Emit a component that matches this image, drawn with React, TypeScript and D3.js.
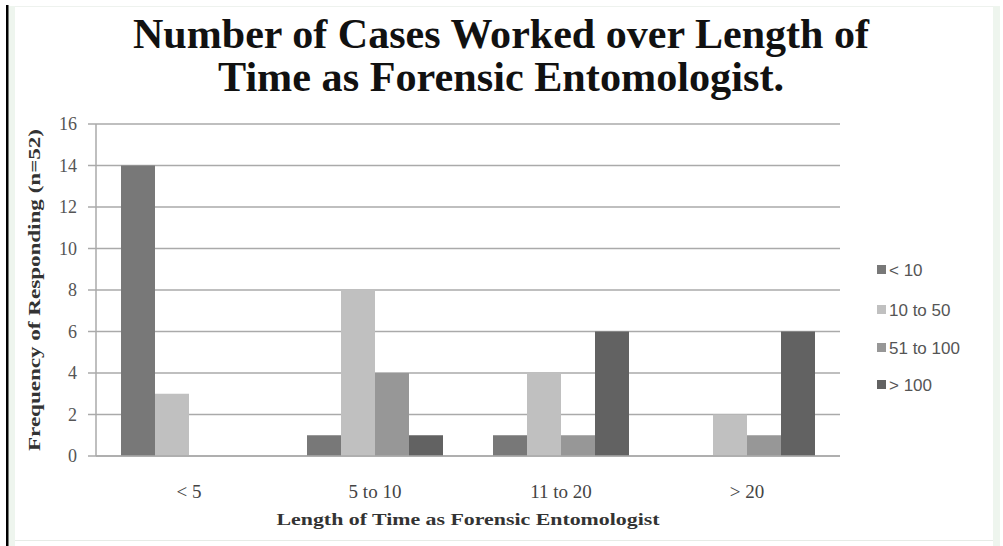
import React from "react";
import * as d3 from "d3";

const categories = ["< 5", "5 to 10", "11 to 20", "> 20"];
const seriesNames = ["< 10", "10 to 50", "51 to 100", "> 100"];
const lessThan10 = [14, 1, 1, 0];
const from10to50 = [3, 8, 4, 2];
const from51to100 = [0, 4, 1, 1];
const over100 = [0, 1, 6, 6];
const yTicks = [0, 2, 4, 6, 8, 10, 12, 14, 16];
const colors = ["#787878", "#c0c0c0", "#979797", "#626262"];

export default function App() {
  const W = 1003, H = 546;
  const left = 96, right = 840, top = 124, bottom = 456;
  const series = [lessThan10, from10to50, from51to100, over100];
  const x = d3.scaleBand<string>().domain(categories).range([left, right]).paddingInner(0).paddingOuter(0);
  const y = d3.scaleLinear().domain([0, 16]).range([bottom, top]);
  const bw = x.bandwidth();
  const barW = 34;
  const inner = d3.scaleBand<string>().domain(seriesNames).range([bw / 2 - 2 * barW, bw / 2 + 2 * barW]);
  const serif = "'Liberation Serif', 'Times New Roman', serif";
  const sans = "'Liberation Sans', Arial, sans-serif";
  const legendY = [270, 310, 348, 385];

  return (
    <svg width={W} height={H} style={{ position: "absolute", left: 0, top: 0, background: "#fff" }}>
      <rect x={0} y={0} width={W} height={H} fill="#fff" />
      <rect x={8} y={6} width={7} height={H - 6} fill="#eef5ee" />
      <rect x={993} y={6} width={7} height={H - 6} fill="#eef5ee" />
      <line x1={15} x2={993} y1={6.5} y2={6.5} stroke="#eef2ee" />
      <line x1={15} x2={993} y1={540.5} y2={540.5} stroke="#e6ebe6" />
      <rect x={6} y={5} width={2.5} height={H - 5} fill="#000" />

      <text x={501} y={48} textAnchor="middle" fontFamily={serif} fontWeight="bold" fontSize={42} textLength={736} lengthAdjust="spacingAndGlyphs" fill="#111">
        Number of Cases Worked over Length of
      </text>
      <text x={501} y={91} textAnchor="middle" fontFamily={serif} fontWeight="bold" fontSize={42} textLength={566} lengthAdjust="spacingAndGlyphs" fill="#111">
        Time as Forensic Entomologist.
      </text>

      {yTicks.map((t) => (
        <g key={t}>
          <line x1={88} x2={right} y1={y(t)} y2={y(t)} stroke="#aaa" strokeWidth={1.5} />
          <text x={77} y={y(t) + 6} textAnchor="end" fontFamily={serif} fontSize={18} fill="#555">{t}</text>
        </g>
      ))}
      <line x1={left} x2={left} y1={top} y2={bottom} stroke="#aaa" strokeWidth={1.5} />

      {categories.map((c, i) => (
        <g key={c}>
          {series.map((s, j) =>
            s[i] > 0 ? (
              <rect key={j} x={(x(c) as number) + (inner(seriesNames[j]) as number)} y={y(s[i])} width={inner.bandwidth()} height={bottom - y(s[i])} fill={colors[j]} />
            ) : null
          )}
          <text x={(x(c) as number) + bw / 2} y={498} textAnchor="middle" fontFamily={serif} fontSize={19} fill="#444">{c}</text>
        </g>
      ))}
      <line x1={left} x2={right} y1={bottom} y2={bottom} stroke="#aaa" strokeWidth={1.5} />

      <text x={468} y={525} textAnchor="middle" fontFamily={serif} fontWeight="bold" fontSize={17} textLength={383} lengthAdjust="spacingAndGlyphs" fill="#333">
        Length of Time as Forensic Entomologist
      </text>

      <text transform={`translate(40, 290) rotate(-90)`} textAnchor="middle" fontFamily={serif} fontWeight="bold" fontSize={16} textLength={322} lengthAdjust="spacingAndGlyphs" fill="#333">
        Frequency of Responding (n=52)
      </text>

      {seriesNames.map((n, j) => (
        <g key={n}>
          <rect x={877} y={legendY[j] - 5} width={9} height={9} fill={colors[j]} />
          <text x={889} y={legendY[j] + 6} fontFamily={sans} fontSize={17} fill="#555">{n}</text>
        </g>
      ))}
    </svg>
  );
}
